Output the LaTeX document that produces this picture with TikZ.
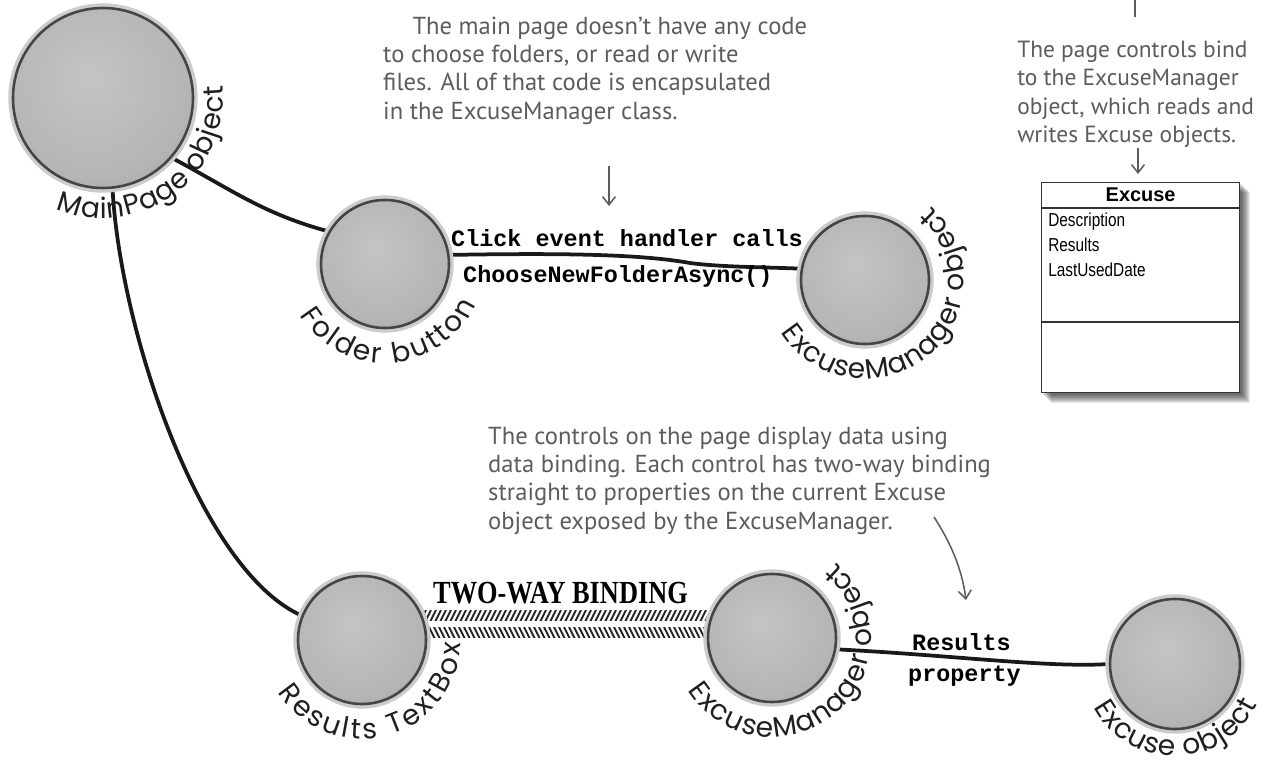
\documentclass[tikz,border=0pt]{standalone}
\usepackage{fontspec}
\setmainfont{Liberation Sans}
\newfontfamily\handfont{PT Sans}
\newfontfamily\labfont{Poppins}
\newfontfamily\codefont{Liberation Mono}
\newfontfamily\stencilfont{Liberation Serif}
\newfontfamily\narrowfont[FakeStretch=0.82]{Liberation Sans}
\usetikzlibrary{decorations.text,arrows.meta,backgrounds,calc}
\definecolor{annot}{gray}{0.36}
\definecolor{ballin}{gray}{0.77}
\definecolor{ballmid}{gray}{0.71}
\definecolor{ballout}{gray}{0.55}
\definecolor{ballring}{gray}{0.27}
\definecolor{ballhalo}{gray}{0.80}
\pgfdeclareradialshading{ballshade}{\pgfpoint{-4bp}{6bp}}{color(0bp)=(ballin); color(26bp)=(ballmid); color(44bp)=(ballout); color(60bp)=(ballout)}
\begin{document}
\begin{tikzpicture}[x=0.03cm, y=0.03cm,
  ball/.style={circle, inner sep=0pt, minimum size=#1, shading=ballshade, draw=ballring, line width=2.2pt, preaction={draw=ballhalo, line width=8pt}},
  conn/.style={line width=3.2pt, black!90, line cap=round},
  hatchline/.style={line width=1.6pt, black!85},
  note/.style={font=\handfont\fontsize{21}{24}\selectfont, text=annot, align=left, inner sep=0pt, anchor=north west},
  notearrow/.style={annot, line width=1.3pt, -{Straight Barb[length=7pt,width=11pt]}},
  mlabel/.style={font=\codefont\bfseries\fontsize{20}{20}\selectfont, inner sep=0pt, anchor=base west},
  arclabel/.style={decorate, decoration={text along path, text={|\labfont\fontsize{24}{24}\selectfont|#1}, text align={fit to path}, text color=black!88}},
  attr/.style={font=\narrowfont\fontsize{16}{16}\selectfont, inner sep=0pt, anchor=base west},
  boxline/.style={draw=black!80, line width=1pt}
]
\useasboundingbox (0,0) rectangle (1268,-767);
\begin{scope}[on background layer]
  \fill[white] (0,0) rectangle (1268,-767);
\end{scope}

% objects
\node[ball=5.4cm] (mp) at (103,-98) {};
\node[ball=3.84cm] (fb) at (385,-264) {};
\node[ball=3.84cm] (em1) at (865,-280) {};
\node[ball=3.84cm] (rtb) at (362,-640) {};
\node[ball=3.84cm] (em2) at (772,-638) {};
\node[ball=3.9cm] (ex) at (1175,-664) {};

% curved labels
\path[arclabel={MainPage object}] ($(mp.center)+(247:120)$) arc[start angle=247, end angle=366, radius=120];
\path[arclabel={Folder button}] ($(fb.center)+(211:99)$) arc[start angle=211, end angle=336, radius=99];
\path[arclabel={ExcuseManager object}] ($(em1.center)+(212:99)$) arc[start angle=212, end angle=408, radius=99];
\path[arclabel={Results TextBox}] ($(rtb.center)+(212:99)$) arc[start angle=212, end angle=358, radius=99];
\path[arclabel={ExcuseManager object}] ($(em2.center)+(212:99)$) arc[start angle=212, end angle=410, radius=99];
\path[arclabel={Excuse object}] ($(ex.center)+(208:92)$) arc[start angle=208, end angle=334, radius=92];

% connectors
\begin{scope}[on background layer]
  \draw[conn] (mp.-41) to[out=-28, in=165] (fb.150);
  \draw[conn] (mp.-84) .. controls (120,-330) and (200,-570) .. (rtb.158);
  \draw[conn] (fb.8) .. controls (560,-253) and (640,-254) .. (690,-263) .. controls (720,-267) and (760,-267) .. (em1.170);
  \draw[conn] (em2.-10) .. controls (950,-655) and (1050,-668) .. (ex.180);
  % two-way binding bands
  \begin{scope}
    \clip ($(rtb.center)+(0,20)$) rectangle ($(em2.center)+(0,28)$);
    \foreach \x in {300,305,...,860} \draw[hatchline] (\x,-622) -- ++(6,12);
  \end{scope}
  \begin{scope}
    \clip ($(rtb.center)+(0,3)$) rectangle ($(em2.center)+(0,11)$);
    \foreach \x in {300,305,...,860} \draw[hatchline] (\x,-639) -- ++(-6,12);
  \end{scope}
\end{scope}

\node[mlabel] (l1) at (451,-247) {Click event handler calls};
\node[mlabel] (l2) at (463,-283) {ChooseNewFolderAsync()};
\node[mlabel] (l3) at (912,-650) {Results};
\node[mlabel] (l4) at (908,-681) {property};
\node[anchor=base west, inner sep=0pt, font=\stencilfont\bfseries\fontsize{25}{25}\selectfont] (twb) at (433,-603) {\scalebox{0.9}[1.1]{TWO-WAY BINDING}};

% annotations
\node[note] (n1) at (383,-17) {\hspace*{25pt}The main page doesn’t have any code\\to choose folders, or read or write\\files. All of that code is encapsulated\\in the ExcuseManager class.};
\coordinate (a1s) at (609,-166);
\coordinate (a1e) at (609,-206);
\draw[notearrow] (a1s) -- (a1e);

\coordinate (t2s) at (1135,0);
\coordinate (t2e) at (1135,-17);
\draw[annot, line width=1.3pt] (t2s) -- (t2e);
\node[note, font=\handfont\fontsize{20}{24}\selectfont] (n2) at (1017,-41) {The page controls bind\\to the ExcuseManager\\object, which reads and\\writes Excuse objects.};
\coordinate (a2s) at (1138,-148);
\coordinate (a2e) at (1138,-174);
\draw[notearrow] (a2s) -- (a2e);

\node[note] (n3) at (488,-427) {The controls on the page display data using\\data binding. Each control has two-way binding\\straight to properties on the current Excuse\\object exposed by the ExcuseManager.};
\coordinate (a3s) at (934,-517);
\coordinate (a3e) at (966,-600);
\draw[notearrow] (a3s) .. controls (952,-545) and (962,-570) .. (a3e);

% Excuse class box
\node[draw=black!80, line width=1pt, minimum width=5.94cm, minimum height=6.3cm, anchor=north west, inner sep=0pt, fill=white] (exbox) at (1041,-182) {};
\begin{scope}[on background layer]
  \foreach \d in {2,...,10} \fill[black, opacity=0.085] ($(exbox.north west)+(\d,-\d)$) rectangle ($(exbox.south east)+(\d,-\d)$);
\end{scope}
\draw[boxline] ($(exbox.north west)+(0,-26)$) -- ($(exbox.north east)+(0,-26)$);
\draw[boxline] ($(exbox.north west)+(0,-140)$) -- ($(exbox.north east)+(0,-140)$);
\node[anchor=base, inner sep=0pt, font=\bfseries\fontsize{17}{17}\selectfont] (exhead) at ($(exbox.north)+(0,-20)$) {Excuse};
\node[attr] (at1) at ($(exbox.north west)+(7,-45)$) {Description};
\node[attr] (at2) at ($(exbox.north west)+(7,-70)$) {Results};
\node[attr] (at3) at ($(exbox.north west)+(7,-95)$) {LastUsedDate};
\end{tikzpicture}
\end{document}
